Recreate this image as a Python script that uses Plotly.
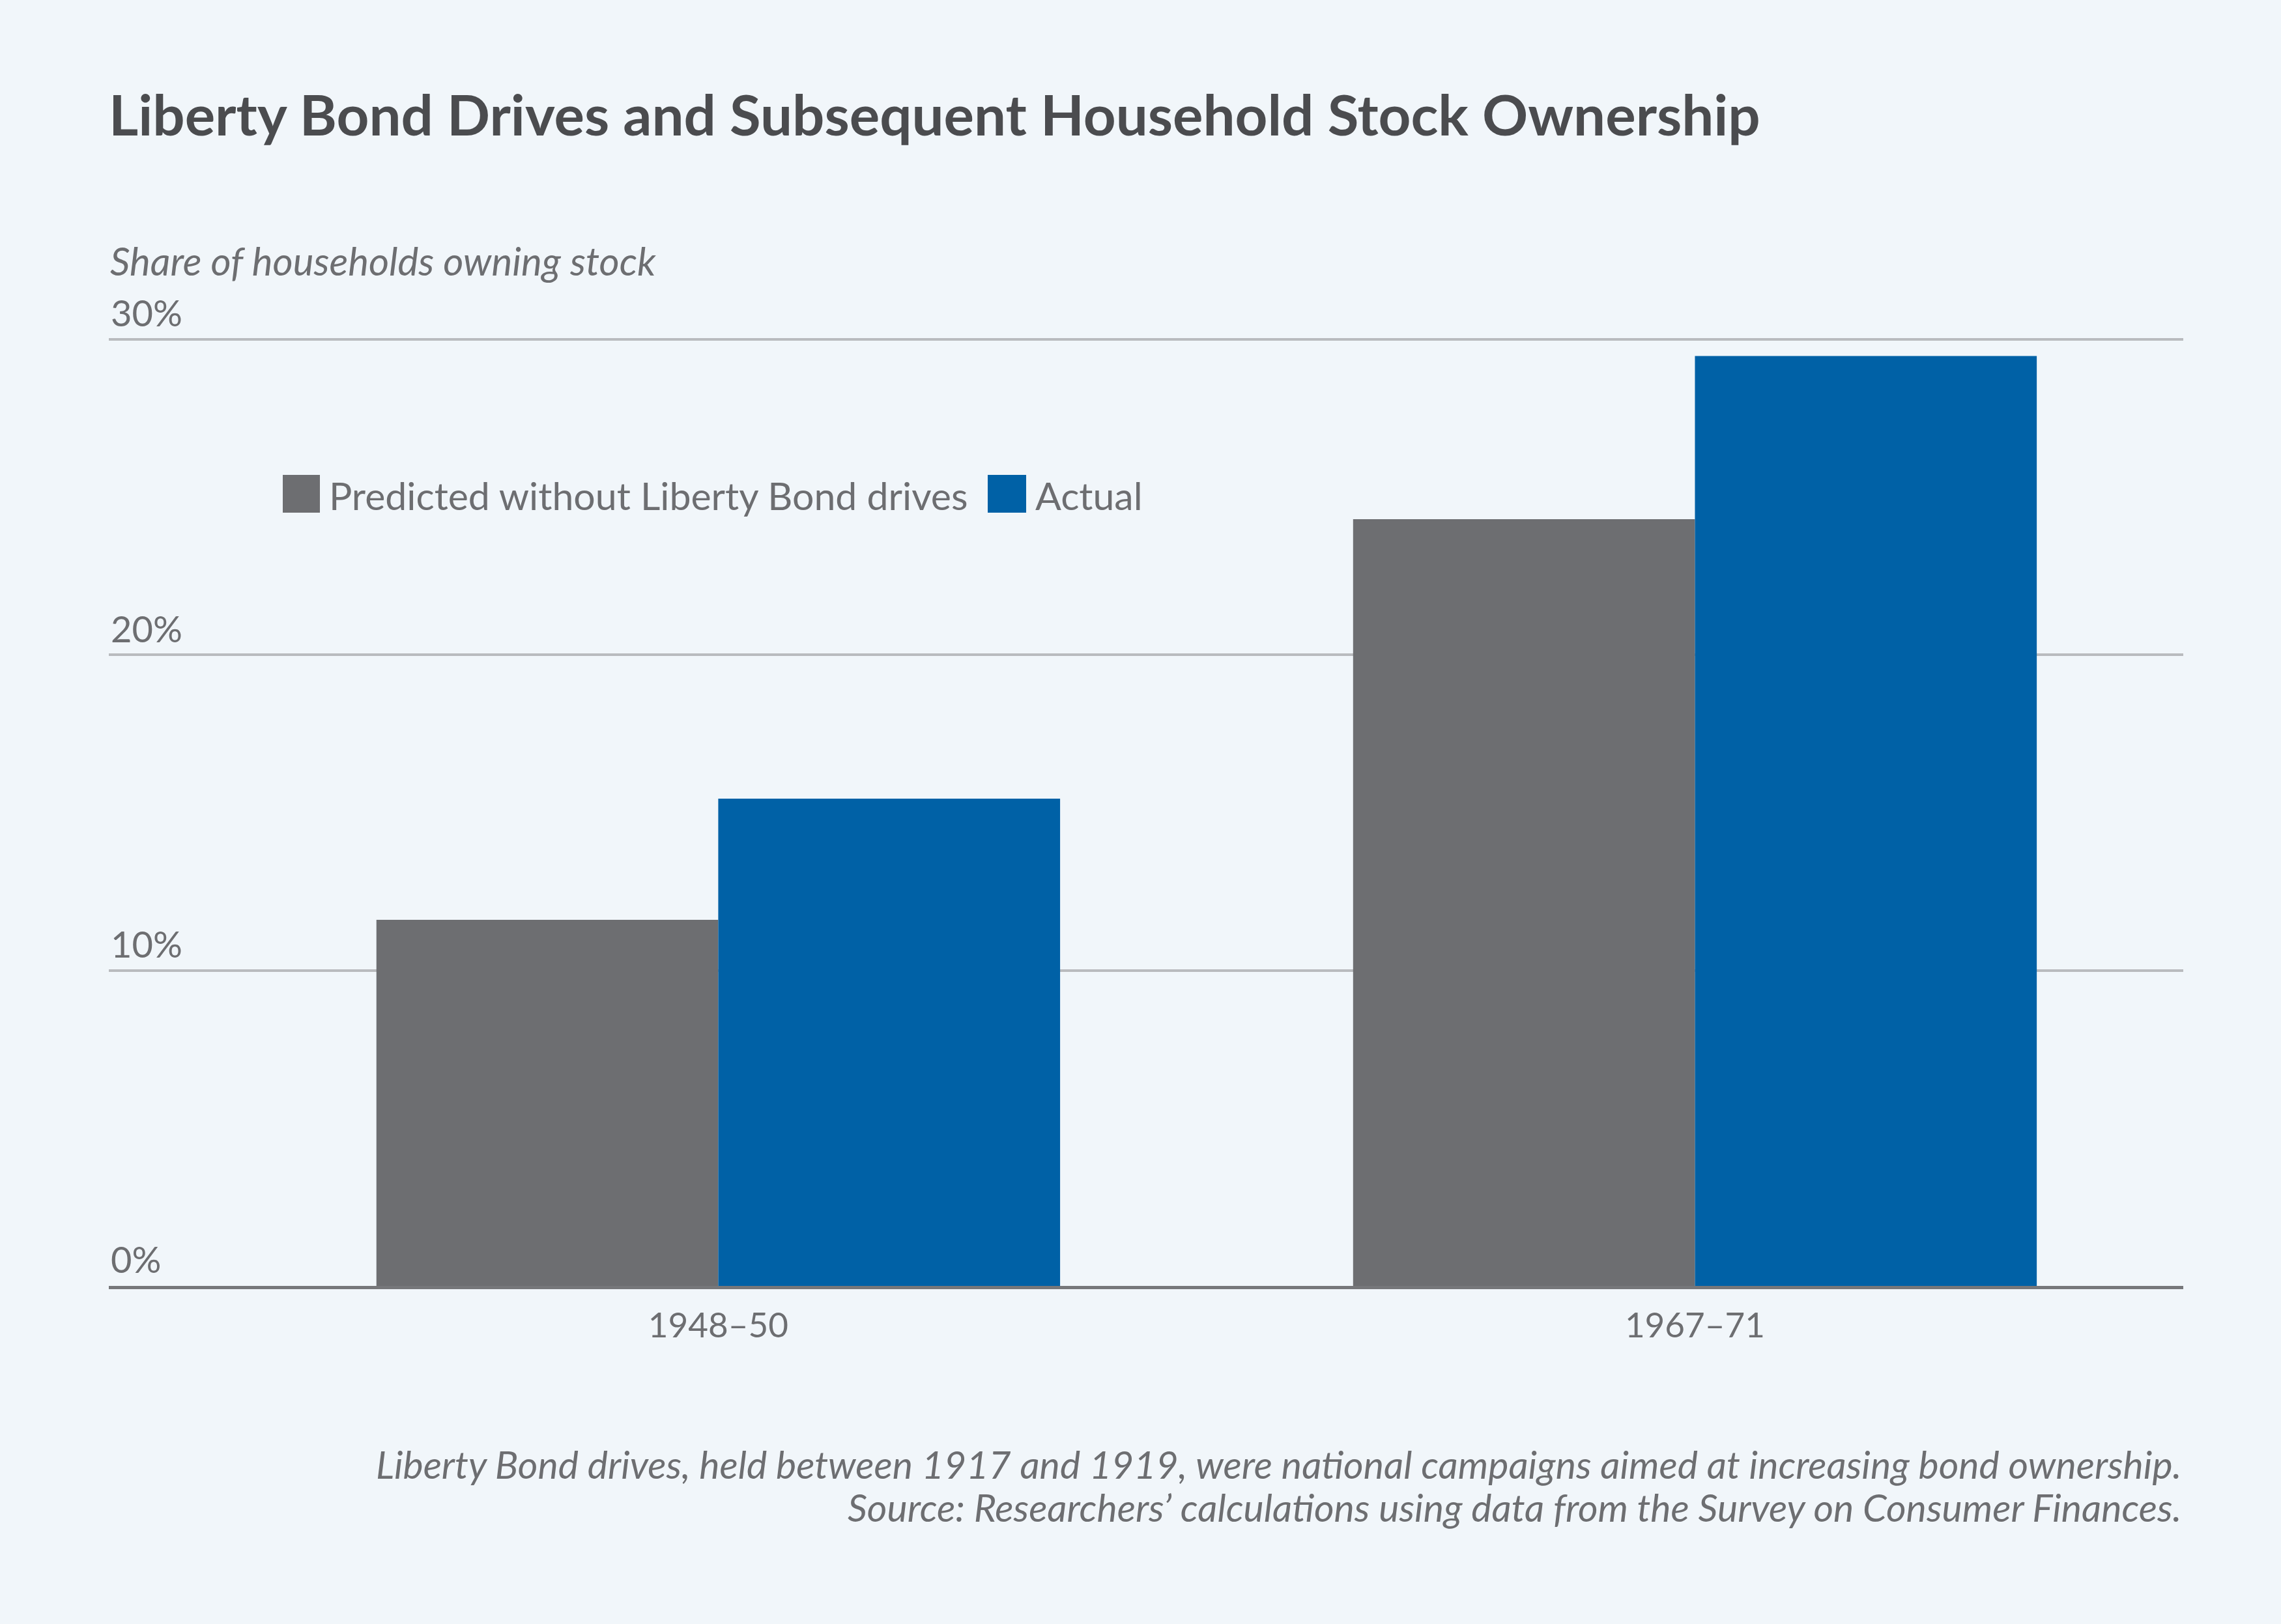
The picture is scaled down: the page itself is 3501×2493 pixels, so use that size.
import plotly.graph_objects as go

# ---- data ----
periods = ["1948–50", "1967–71"]
series_names = ["Predicted without Liberty Bond drives", "Actual"]
predicted = [11.6, 24.3]
actual = [15.44, 29.47]
y_ticks = [0, 10, 20, 30]
y_tick_labels = ["0%", "10%", "20%", "30%"]
title_text = "Liberty Bond Drives and Subsequent Household Stock Ownership"
y_title = "Share of households owning stock"
notes = [
    "Liberty Bond drives, held between 1917 and 1919, were national campaigns aimed at increasing bond ownership.",
    "Source: Researchers’ calculations using data from the Survey on Consumer Finances.",
]

# ---- style ----
BG = "#f1f6fa"
GRAY = "#6d6e71"
BLUE = "#0061a6"
TEXT = "#6d6e71"
TITLE = "#4b4c4f"
FONT = "Lato"
colors = [GRAY, BLUE]

W, H = 3501, 2493
Y_TOP = 30.1
ML, MR, MB = 167, 150, 519
UNIT = (1974 - 520.7) / 30.0
MT = int(round(520.7 - (Y_TOP - 30) * UNIT))
PW, PH = W - ML - MR, H - MT - MB


def px(xp):
    return (xp - ML) / PW


def py(yp):
    return (H - MB - yp) / PH


fig = go.Figure()
for name, vals, col in zip(series_names, [predicted, actual], colors):
    fig.add_trace(go.Bar(x=periods, y=vals, name=name, marker=dict(color=col, line=dict(width=0)),
                         showlegend=False))

fig.update_layout(
    width=W, height=H,
    margin=dict(l=ML, r=MR, t=MT, b=MB),
    paper_bgcolor=BG, plot_bgcolor=BG,
    barmode="group", bargap=0.3, bargroupgap=0,
    font=dict(family=FONT, color=TEXT, size=56),
    title=dict(text="<b>" + title_text + "</b>", x=ML / W, xanchor="left", xref="container",
               y=1 - 208 / H, yanchor="bottom", yref="container",
               font=dict(family=FONT, size=87, color=TITLE)),
    xaxis=dict(range=[-0.624, 1.5], showgrid=False, showline=True, linecolor="#76777a", linewidth=5,
               ticks="", tickfont=dict(size=53, color=TEXT), ticklabelstandoff=10, zeroline=False),
    yaxis=dict(range=[0, Y_TOP], tickvals=y_ticks, ticktext=y_tick_labels, showgrid=True,
               gridcolor="#b9bbbe", gridwidth=4, zeroline=False, showline=False, ticks="",
               ticklabelposition="inside top", ticklabeloverflow="allow",
               tickfont=dict(size=56, color=TEXT)),
)

# y-axis title (horizontal, above the plot)
fig.add_annotation(text="<i>" + y_title + "</i>", xref="paper", yref="paper", x=0, y=py(438),
                   xanchor="left", yanchor="bottom", showarrow=False,
                   font=dict(family=FONT, size=60, color=TEXT))

# custom legend (large square keys)
key_x = [(434, 491), (1516, 1575)]
for (x0, x1), name, col in zip(key_x, series_names, colors):
    fig.add_shape(type="rect", xref="paper", yref="paper", x0=px(x0), x1=px(x1),
                  y0=py(787), y1=py(729), fillcolor=col, line=dict(width=0))
    fig.add_annotation(text=name, xref="paper", yref="paper", x=px(x1 + 12), y=py(760),
                       xanchor="left", yanchor="middle", showarrow=False,
                       font=dict(family=FONT, size=59, color=TEXT))

# footnotes
for line, ypix in zip(notes, [2247, 2313]):
    fig.add_annotation(text="<i>" + line + "</i>", xref="paper", yref="paper", x=px(3350), y=py(ypix),
                       xanchor="right", yanchor="middle", showarrow=False,
                       font=dict(family=FONT, size=59, color=TEXT))

fig.write_html("out.html", config={"displayModeBar": False},
               post_script="document.body.style.margin='0';document.body.style.padding='0';")
